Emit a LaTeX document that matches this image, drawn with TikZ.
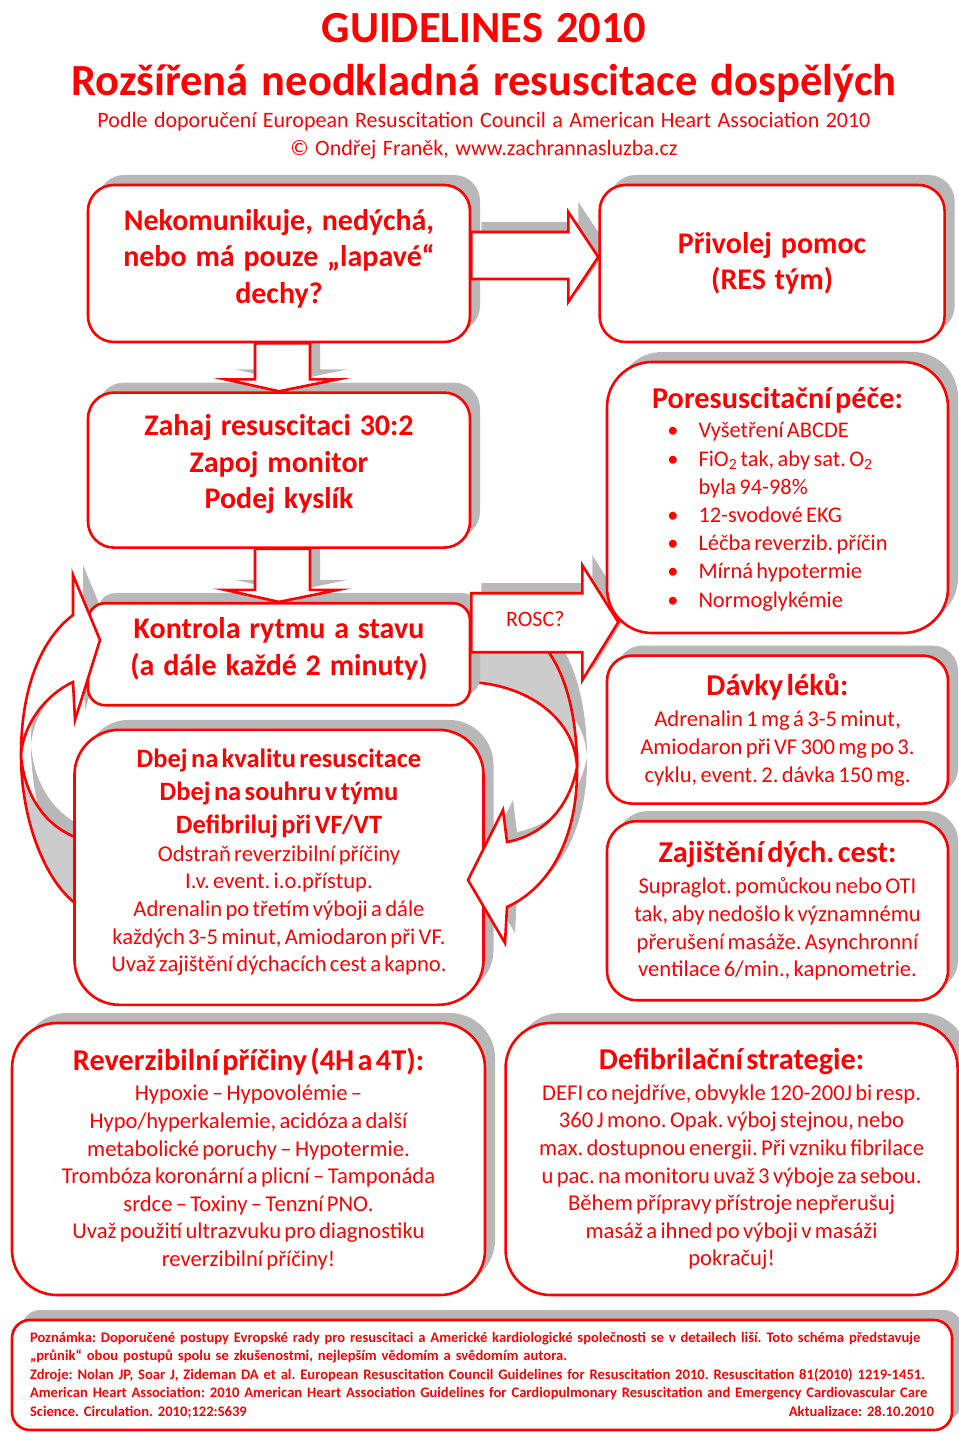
\documentclass[tikz,border=0pt]{standalone}
\usepackage{fontspec}
\setmainfont{Carlito}[WordSpace=1.3]
\usepackage{tikz}
\usetikzlibrary{positioning, calc, shadows}
\frenchspacing

\pgfdeclarelayer{bg}
\pgfdeclarelayer{fg}
\pgfsetlayers{bg,main,fg}

\tikzset{
  box/.style={draw=red, line width=2.6pt, fill=white, text=red, align=center,
    inner sep=4pt, rounded corners=#1,
    drop shadow={shadow xshift=10pt, shadow yshift=10pt, fill=black!28, opacity=1}},
  box/.default=26pt,
  arrowbody/.style={draw=red, line width=2.6pt, fill=white},
  backpart/.style={draw=red, line width=2.6pt, fill=black!20},
  arrowshadow/.style={fill=black!28, transform canvas={shift={(10pt,10pt)}}},
  headfont/.style={font=\fontsize{30}{36.5}\selectfont\bfseries},
  titlefont/.style={text=red, font=\fontsize{44.5}{52}\selectfont\bfseries},
  subfont/.style={text=red, font=\fontsize{22}{26}\selectfont},
}
\newcommand{\boxhead}{\fontsize{26.5}{33}\selectfont\bfseries}
\newcommand{\sectionhead}{\fontsize{30.3}{34}\selectfont\bfseries}
\newcommand{\boxbody}{\fontsize{22.6}{27.6}\selectfont}
\newcommand{\shadowarrow}[3]{%
  \begin{pgfonlayer}{bg}\fill[arrowshadow] #3;\end{pgfonlayer}
  \begin{pgfonlayer}{#1}\draw[#2] #3;\end{pgfonlayer}}

\begin{document}
\begin{tikzpicture}[x=1pt, y=-1pt, node distance=20pt]
\useasboundingbox (0,0) rectangle (958,1434);

% heading
\node[titlefont] (title) at (484,28) {GUIDELINES 2010};
\node[titlefont] (subtitle) at (484,83) {Rozšířená neodkladná resuscitace dospělých};
\node[subfont] (source) at (484,122) {Podle doporučení European Resuscitation Council a American Heart Association 2010};
\node[subfont] (author) at (484,150) {© Ondřej Franěk, www.zachrannasluzba.cz};

% left column
\node[box, minimum width=382pt, minimum height=157pt, headfont, text depth=15pt] (check) at (279,263.5) {Nekomunikuje, nedýchá,\\ nebo má pouze „lapavé“\\ dechy?};
\node[box, minimum width=345pt, minimum height=157pt, headfont, right=127pt of check] (help) {Přivolej pomoc\\ (RES tým)};
\node[box, minimum width=382pt, minimum height=155pt, headfont, text depth=17pt, below=48pt of check] (cpr) {Zahaj resuscitaci 30:2\\ Zapoj monitor\\ Podej kyslík};
\node[box=17pt, minimum width=382pt, minimum height=102pt, headfont, text depth=15pt, below=53pt of cpr] (rhythm) {Kontrola rytmu a stavu\\ (a dále každé 2 minuty)};
\node[box=45pt, minimum width=409pt, minimum height=275pt, text width=400pt, below=22pt of rhythm] (quality) {%
  {\boxhead Dbej na kvalitu resuscitace\\ Dbej na souhru v týmu\\ Defibriluj při VF/VT\par}
  {\boxbody Odstraň reverzibilní příčiny\\ I.v. event. i.o.přístup.\\ Adrenalin po třetím výboji a dále\\ každých 3-5 minut, Amiodaron při VF.\\ Uvaž zajištění dýchacích cest a kapno.\par}\vspace{10pt}};

% right column
\node[box=45pt, minimum width=341pt, minimum height=271pt, text width=332pt] (post) at (777.5,497.5) {%
  {\sectionhead Poresuscitační péče:\par}\vspace{1pt}
  {\fontsize{22.4}{28.2}\selectfont\begin{tabular}[t]{@{}c@{\hspace{20pt}}l@{}}
    \textbullet & Vyšetření ABCDE\\
    \textbullet & FiO\textsubscript{2} tak, aby sat. O\textsubscript{2}\\
     & byla 94-98\%\\
    \textbullet & 12-svodové EKG\\
    \textbullet & Léčba reverzib. příčin\\
    \textbullet & Mírná hypotermie\\
    \textbullet & Normoglykémie
  \end{tabular}\par}\vspace{-8pt}};
\node[box=25pt, minimum width=341pt, minimum height=148pt, text width=332pt, below=20pt of post] (drugs) {%
  {\sectionhead Dávky léků:\par}\vspace{4pt}
  {\boxbody Adrenalin 1 mg á 3-5 minut,\\ Amiodaron při VF 300 mg po 3.\\ cyklu, event. 2. dávka 150 mg.\par}};
\node[box=30pt, minimum width=341pt, minimum height=179pt, text width=332pt, below=15pt of drugs] (airway) {%
  {\sectionhead Zajištění dých. cest:\par}\vspace{4pt}
  {\boxbody Supraglot. pomůckou nebo OTI\\ tak, aby nedošlo k významnému\\ přerušení masáže. Asynchronní\\ ventilace 6/min., kapnometrie.\par}};

% bottom row
\node[box=45pt, minimum width=473pt, minimum height=272pt, text width=464pt] (causes) at (248.5,1159) {%
  {\sectionhead Reverzibilní příčiny (4H a 4T):\par}\vspace{3pt}
  {\boxbody Hypoxie – Hypovolémie –\\ Hypo/hyperkalemie, acidóza a další\\ metabolické poruchy – Hypotermie.\\ Trombóza koronární a plicní – Tamponáda\\ srdce – Toxiny – Tenzní PNO.\\ Uvaž použití ultrazvuku pro diagnostiku\\ reverzibilní příčiny!\par}};
\node[box=45pt, minimum width=452pt, minimum height=272pt, text width=444pt, right=18pt of causes] (defib) {%
  {\sectionhead Defibrilační strategie:\par}\vspace{3pt}
  {\boxbody DEFI co nejdříve, obvykle 120-200J bi resp.\\ 360 J mono. Opak. výboj stejnou, nebo\\ max. dostupnou energii. Při vzniku fibrilace\\ u pac. na monitoru uvaž 3 výboje za sebou.\\ Během přípravy přístroje nepřerušuj\\ masáž a ihned po výboji v masáži\\ pokračuj!\par}};
\node[box=18pt, minimum width=940pt, minimum height=110pt, text width=904pt, align=left,
  font=\fontsize{14.6}{18.5}\selectfont\bfseries] (note) at (482,1375) {%
  Poznámka: Doporučené postupy Evropské rady pro resuscitaci a Americké kardiologické společnosti se v detailech liší. Toto schéma představuje\\
  „průnik“ obou postupů spolu se zkušenostmi, nejlepším vědomím a svědomím autora.\\
  Zdroje: Nolan JP, Soar J, Zideman DA et al. European Resuscitation Council Guidelines for Resuscitation 2010. Resuscitation 81(2010) 1219-1451.\\
  American Heart Association: 2010 American Heart Association Guidelines for Cardiopulmonary Resuscitation and Emergency Cardiovascular Care\\
  Science. Circulation. 2010;122:S639\hfill Aktualizace: 28.10.2010};

% block arrows
\shadowarrow{fg}{arrowbody}{($(check.east)+(0,-31.5)$) -- ($(help.west)+(-30,-31.5)$) -- ($(help.west)+(-30,-51.5)$) -- ($(help.west)+(0,-6.5)$) -- ($(help.west)+(-30,38.5)$) -- ($(help.west)+(-30,15.5)$) -- ($(check.east)+(0,15.5)$) -- cycle}
\shadowarrow{fg}{arrowbody}{($(check.south)+(-24,0)$) -- ($(cpr.north)+(-24,-12)$) -- ($(cpr.north)+(-54,-12)$) -- (cpr.north) -- ($(cpr.north)+(59,-12)$) -- ($(cpr.north)+(31,-12)$) -- ($(check.south)+(31,0)$) -- cycle}
\shadowarrow{fg}{arrowbody}{($(cpr.south)+(-24,0)$) -- ($(rhythm.north)+(-24,-12)$) -- ($(rhythm.north)+(-54,-12)$) -- (rhythm.north) -- ($(rhythm.north)+(59,-12)$) -- ($(rhythm.north)+(31,-12)$) -- ($(cpr.south)+(31,0)$) -- cycle}
\shadowarrow{fg}{arrowbody}{($(rhythm.east)+(0,-61)$) -- ($(rhythm.east)+(111,-61)$) -- ($(rhythm.east)+(111,-89)$) -- ($(rhythm.east)+(147,-32)$) -- ($(rhythm.east)+(111,26)$) -- ($(rhythm.east)+(111,-2)$) -- ($(rhythm.east)+(0,-2)$) -- cycle}
\begin{pgfonlayer}{fg}
  \node[subfont, font=\fontsize{22}{24}\selectfont] (rosc) at ($(rhythm.east)+(64,-35)$) {ROSC?};
\end{pgfonlayer}

% loop on the left
\shadowarrow{bg}{backpart}{(21,755) .. controls (21,820) and (45,880) .. (75,903) -- (75,837) .. controls (45,825) and (24,795) .. (21,755) -- cycle}
\shadowarrow{fg}{arrowbody}{(21,755) .. controls (21,690) and (40,640) .. (73,615) -- (73,575) -- (100,640) -- (75,720) -- (73,682) .. controls (45,695) and (23,725) .. (21,755) -- cycle}
% loop on the right
\shadowarrow{bg}{backpart}{(470,682) .. controls (530,685) and (575,720) .. (577,767) .. controls (577,715) and (565,670) .. (543,645) -- (470,645) -- cycle}
\shadowarrow{fg}{arrowbody}{(577,767) .. controls (578,830) and (555,885) .. (507,907) -- (505,943) -- (468,880) -- (503,810) -- (507,842) .. controls (545,835) and (570,805) .. (577,767) -- cycle}
\end{tikzpicture}
\end{document}
